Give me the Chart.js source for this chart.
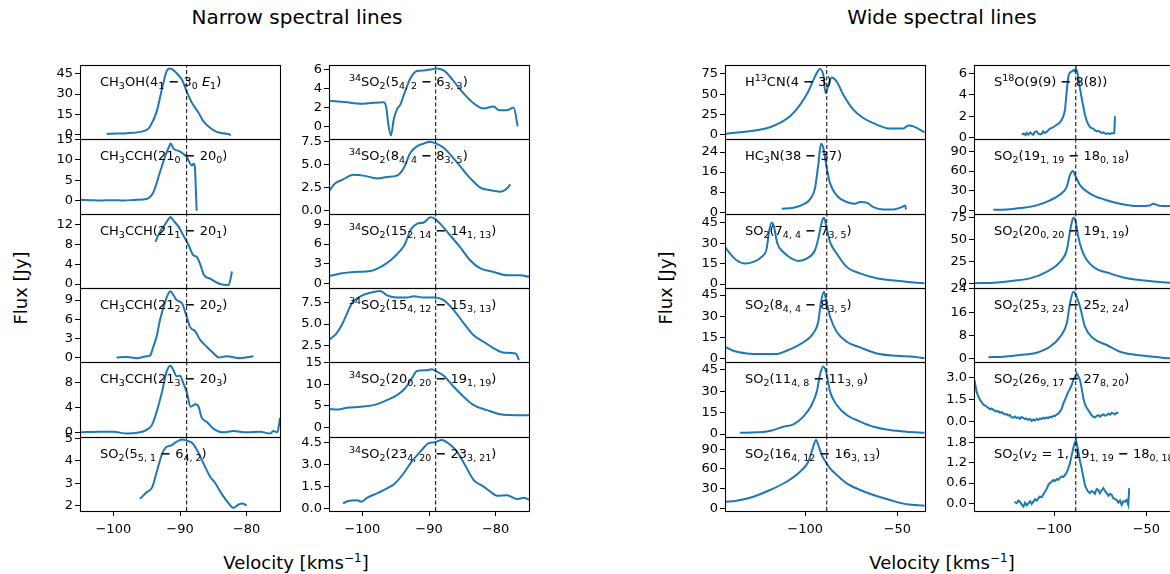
<!DOCTYPE html>
<html>
<head>
<meta charset="utf-8">
<script src="https://cdn.jsdelivr.net/npm/chart.js@4.4.0/dist/chart.umd.min.js"></script>
<style>
  body { margin: 0; width: 1170px; height: 574px; overflow: hidden; background: #fff; position: relative; font-family: "DejaVu Sans", sans-serif; }
  canvas { position: absolute; }
  .txt { position: absolute; white-space: nowrap; color: #000; transform: translate(-50%, -50%); }
  .rot { transform: translate(-50%, -50%) rotate(-90deg); }
</style>
</head>
<body>
<div class="txt" style="left:297px;top:17px;font-size:20px">Narrow spectral lines</div>
<div class="txt" style="left:942px;top:17px;font-size:20px">Wide spectral lines</div>
<div class="txt rot" style="left:20px;top:288px;font-size:18px">Flux [Jy]</div>
<div class="txt rot" style="left:665px;top:288px;font-size:18px">Flux [Jy]</div>
<div class="txt" style="left:296px;top:562px;font-size:18px">Velocity [kms<sup style="font-size:12px">−1</sup>]</div>
<div class="txt" style="left:942px;top:562px;font-size:18px">Velocity [kms<sup style="font-size:12px">−1</sup>]</div>
<script>
// ---- narrow lines, first column: [velocity, flux]
const ch3oh = [[-101,0.5],[-99.5,0.7],[-98,1],[-96,2],[-95,3.5],[-94.5,6],[-93.5,17],[-92.7,34],[-92,47],[-91.5,49],[-90.5,45.5],[-89.7,40.6],[-89,32],[-88.2,23.4],[-87.2,16],[-86.5,10],[-85.5,5],[-84.5,2],[-83.2,0.7],[-82.7,0.4],[-82.4,-0.7]];
const ch3cch0 = [[-105,0.2],[-103.5,0.1],[-102,0],[-100,0.1],[-98.5,0],[-96.5,0.2],[-95,0.4],[-94,2],[-93,7],[-92.2,11],[-91.7,13],[-91.4,14],[-91,12.8],[-90,12],[-89,10.7],[-88.2,8.6],[-88,9],[-87.8,8.6],[-87.5,-2.5]];
const ch3cch1 = [[-93.7,8.5],[-93,10.5],[-92.2,12.1],[-91.7,13.1],[-91.4,13.5],[-91,12.8],[-90.2,11.5],[-89.5,9.8],[-88.7,7.8],[-88,5.8],[-87.5,5.5],[-87,4.1],[-86.4,1.8],[-85.5,1.1],[-84,0],[-82.7,-0.2],[-82.2,2.5]];
const ch3cch2 = [[-99.5,0],[-98,0.1],[-96.5,-0.1],[-95,0.2],[-94.5,0.3],[-94,1.7],[-93.5,3.3],[-93,5.9],[-92.2,8.8],[-91.7,10.1],[-91.4,10.4],[-91,9.8],[-90.5,9],[-89.7,8.5],[-89,6.4],[-88.5,4.8],[-87.7,4.1],[-87,2.8],[-86,1.7],[-85,0.7],[-84.2,0],[-83,0.2],[-81,-0.1],[-79,0.2]];
const ch3cch3 = [[-105,0],[-102,0.1],[-100,0.1],[-98,-0.2],[-96,0],[-95,0.4],[-94.2,1.2],[-93.5,3.3],[-92.7,6.5],[-92,9.8],[-91.4,10.7],[-91,10],[-90.5,9],[-90,9.1],[-89.5,7.9],[-89,6.5],[-88.4,4.1],[-87.7,4.5],[-87.2,4.1],[-86.8,2.5],[-86,1.7],[-85,0.6],[-83.5,0],[-82,0.2],[-80,0],[-78,0.1],[-76.5,-0.2],[-76,0.2],[-75.4,0],[-75,2.3]];
const so2_551 = [[-96,2.3],[-95,2.6],[-94.2,2.8],[-93.5,3.5],[-92.7,4.3],[-92.1,4.6],[-91.2,4.7],[-90.5,4.85],[-89.7,4.95],[-89,4.9],[-88.2,4.8],[-87.5,4.5],[-86.5,3.9],[-85.5,3.3],[-84.7,3.0],[-83.7,2.5],[-82.7,2.1],[-82,1.9],[-81.2,2.05],[-80.7,2.1],[-80,2.0]];

// ---- narrow lines, second column
const so34_542 = [[-105,2.73],[-102.3,2.55],[-100.3,2.4],[-98.3,2.5],[-96.8,2.55],[-96.4,1.95],[-96.1,0.2],[-95.7,-1.0],[-95.3,0.7],[-94.8,1.8],[-94.3,2.3],[-93.6,3.7],[-92.8,5.1],[-91.8,5.9],[-90.8,5.95],[-89.8,6.05],[-88.9,6.15],[-87.8,5.95],[-86.8,5.25],[-85.8,4.35],[-84.8,3.5],[-83.3,2.45],[-81.8,1.9],[-80.3,2.1],[-79.5,1.7],[-78.3,1.7],[-77.3,2.0],[-76.7,0]];
const so34_844 = [[-105,2.1],[-104.1,2.95],[-103.1,3.3],[-101.3,3.9],[-99.8,3.8],[-97.8,3.5],[-96.3,3.65],[-94.8,3.8],[-93.8,4.6],[-92.8,6.3],[-91.8,7.0],[-90.8,7.3],[-89.8,7.5],[-88.9,7.3],[-87.8,6.85],[-86.8,6.1],[-85.3,4.8],[-83.8,3.5],[-82.3,2.5],[-80.8,2.2],[-79.3,2.05],[-78.3,2.4],[-77.8,2.85]];
const so34_15214 = [[-105,1.1],[-103.3,1.5],[-101.3,1.75],[-98.8,1.9],[-97.3,2.5],[-95.8,3.5],[-94.3,5.0],[-93.6,6.0],[-92.8,8.1],[-91.8,9.1],[-90.8,9.3],[-89.8,10.1],[-89.1,9.85],[-88.3,9.1],[-86.8,7.3],[-85.3,5.5],[-83.8,3.5],[-82.3,2.3],[-80.3,1.75],[-78.3,1.25],[-76.3,1.25],[-75,1.0]];
const so34_15412 = [[-105,3.15],[-103.9,3.9],[-103.1,4.85],[-102.3,6.2],[-101.6,7.35],[-100.6,8.05],[-98.8,8.6],[-97.3,8.8],[-96.3,8.3],[-94.8,8.05],[-93.3,8.05],[-92.3,8.2],[-90.8,8.05],[-89.3,8.05],[-87.8,7.75],[-86.3,6.6],[-84.8,5.1],[-83.3,3.7],[-81.8,2.95],[-80.3,2.2],[-78.8,1.7],[-77,1.6],[-76.5,0.85]];
const so34_20020 = [[-105,4.3],[-103.6,4.2],[-102.3,4.6],[-100.3,4.8],[-98.3,5.2],[-96.3,6.35],[-94.8,7.5],[-93.6,9.0],[-92.6,11.3],[-91.8,13.0],[-90.3,13.2],[-89.6,13.4],[-88.8,12.85],[-87.8,11.9],[-86.3,9.4],[-84.8,7.1],[-83.3,5.2],[-81.3,4.05],[-79.3,3.1],[-76.8,2.9],[-75,2.9]];
const so34_23420 = [[-102.9,0.34],[-102.1,0.5],[-100.8,0.55],[-100.1,0.45],[-99.3,0.72],[-97.8,1.02],[-96.3,1.36],[-95.1,1.7],[-93.8,2.39],[-92.6,3.18],[-91.3,3.86],[-90.1,4.43],[-89.1,4.5],[-88.1,4.66],[-87.1,4.43],[-85.8,3.86],[-84.6,2.95],[-83.3,1.93],[-81.8,1.48],[-80.8,1.14],[-79.8,0.86],[-78.3,0.9],[-76.8,0.63],[-75.8,0.72],[-75,0.6]];

// ---- wide lines, first column
const h13cn = [[-143.5,1.2],[-135.4,3.2],[-126.3,5.6],[-119.1,9.3],[-113.7,14.7],[-108.2,22.8],[-102.8,37],[-98.3,53.4],[-94.7,71.7],[-92,81.1],[-90.2,73.8],[-88.9,51.4],[-87.4,61.6],[-85.6,70.5],[-82.9,65.6],[-79.3,49.3],[-73.9,31],[-68.5,20.8],[-61.2,12.6],[-54,7.7],[-46.8,7.7],[-44,11.4],[-41.3,10.5],[-35.3,3.2]];
const hc3n = [[-112.7,1.37],[-106.4,1.78],[-101,3.1],[-97.4,5.1],[-94.7,9.45],[-92.9,18.9],[-91.4,27.3],[-90.2,25.7],[-88.3,17.6],[-86.5,11.5],[-82.9,6.75],[-77.5,4.05],[-73,3.4],[-70.2,4.05],[-66.6,3.8],[-63,2.0],[-57.6,1.1],[-52.2,1.1],[-47.6,2.0],[-45.8,2.7],[-45.3,1.1]];
const so2_744 = [[-143.5,27.2],[-140.8,22.4],[-137.2,17.5],[-132.6,15.1],[-128.1,16.3],[-123.6,19.9],[-120.9,26],[-119.5,39.4],[-118.2,45],[-116.9,41.8],[-115.1,29.7],[-111.9,23.5],[-107.3,18.7],[-103.7,17],[-99.2,18.7],[-94.7,24.8],[-92.9,33.3],[-91,45.4],[-89.8,48.6],[-88.3,40.6],[-86.5,30.8],[-82.9,22.4],[-77.5,12.6],[-70.2,7.8],[-61.2,4.2],[-50.3,2.4],[-41.3,1.2],[-35.3,0.5]];
const so2_844 = [[-143.5,8.2],[-139,5.4],[-131.7,3.5],[-122.7,3.0],[-115.5,3.0],[-110.1,5.4],[-104.6,8.7],[-99.2,13],[-95.6,17.8],[-92.9,26],[-91.4,40.2],[-89.8,47.3],[-88.3,39.1],[-86.5,29.6],[-82.9,18.9],[-77.5,11.8],[-70.2,7.8],[-61.2,3.5],[-50.3,1.8],[-41.3,1.1],[-35.3,0]];
const so2_1148 = [[-135.4,0.9],[-126.3,1.2],[-119.1,2.1],[-111.9,5.1],[-106.4,6.8],[-101,12.2],[-96.5,20.4],[-93.7,29.8],[-92,41.5],[-90.2,47.4],[-88.7,43.9],[-86.5,29.8],[-82.9,20.4],[-77.5,13.4],[-70.2,8.7],[-63,5.1],[-54,2.8],[-44.9,1.6],[-35.3,0.9]];
const so2_16412 = [[-143.5,10.1],[-137.2,11.6],[-128.1,17.7],[-119.1,27.9],[-110.1,40.5],[-102.8,55.8],[-98.3,71],[-95.9,91.4],[-94.1,104],[-92.9,96.5],[-91,81.2],[-89.2,72.1],[-86.5,61],[-82.9,50.8],[-77.5,38],[-70.2,27.9],[-63,20.3],[-54,12.7],[-44.9,6.1],[-35.3,4.0]];

// ---- wide lines, second column
const s18o = [[-117.6,0.3],[-116.5,0.4],[-115.5,0.25],[-114.9,0.46],[-114,0.3],[-113,0.5],[-112.2,0.37],[-111.4,0.28],[-110.5,0.55],[-109.5,0.6],[-108.6,0.4],[-107.7,0.32],[-106.8,0.37],[-106,0.6],[-105,0.45],[-104.1,0.55],[-103.2,0.7],[-102.3,0.85],[-101.3,0.92],[-100.4,1.0],[-99.5,1.1],[-98.6,1.23],[-97.7,1.3],[-96.8,1.45],[-95.9,1.69],[-95,2.0],[-94.1,2.6],[-93.5,3.8],[-92.9,4.9],[-92.2,5.8],[-91.4,6.1],[-90.5,6.15],[-89.6,6.3],[-88.9,6.2],[-88.2,6.46],[-87.5,6.1],[-86.9,5.54],[-86,4.6],[-85.1,3.7],[-84.2,2.9],[-83.3,2.15],[-82.4,1.6],[-81.5,1.23],[-80.6,1.0],[-79.7,0.9],[-78.8,0.86],[-77.9,0.7],[-77,0.6],[-76.1,0.65],[-75.1,0.55],[-74.2,0.45],[-73.3,0.5],[-72.4,0.4],[-71.5,0.37],[-70.6,0.42],[-69.7,0.35],[-68.8,0.45],[-67.9,0.4],[-67.4,0.46],[-67,2.0]];
const so2_19119 = [[-133,1.1],[-125.8,1.5],[-118.5,3.6],[-109.5,7.7],[-102.3,15.4],[-96.8,24.2],[-93.2,36],[-91.4,54],[-89.9,60.2],[-88.7,54],[-86,38.6],[-80.6,25.7],[-73.3,17],[-64.3,10.3],[-55.2,6.6],[-48,7.7],[-46.2,10.3],[-43.5,7.7],[-37.2,6.6],[-33,6.4]];
const so2_20020 = [[-143.3,0.8],[-133,1.5],[-122.2,3.7],[-113.1,6.3],[-104.1,13.7],[-96.8,24.9],[-93.2,37.9],[-91,63.9],[-89.6,74.3],[-88.5,71.3],[-86.9,52.7],[-84.2,34.2],[-78.8,19.3],[-69.7,11.9],[-60.6,6.4],[-49.8,3.7],[-37.2,1.4],[-33,1.2]];
const so2_25323 = [[-135.7,0.58],[-127.6,0.8],[-118.5,1.37],[-109.5,2.17],[-102.3,4.2],[-96.8,7.6],[-93.2,12.2],[-91.4,19.1],[-89.6,23.05],[-88.2,21.9],[-86,17.9],[-83.3,11.1],[-78.8,7.1],[-71.5,4.8],[-64.3,2.5],[-55.2,1.37],[-46.2,0.8],[-37.2,0.24],[-33,0.2]];
const so2_26917 = [[-143.3,2.85],[-142.6,2.4],[-142.1,2.05],[-141.2,1.75],[-140.2,1.48],[-139.2,1.3],[-138.2,1.15],[-137.4,1.1],[-136.6,1.02],[-135.7,0.95],[-134.8,0.85],[-133.9,0.9],[-133,0.8],[-132.1,0.75],[-131.2,0.7],[-130.3,0.72],[-129.4,0.62],[-128.5,0.65],[-127.6,0.57],[-126.7,0.5],[-125.8,0.52],[-124.9,0.42],[-124,0.45],[-123.1,0.3],[-122.2,0.27],[-121.3,0.35],[-120.4,0.25],[-119.5,0.3],[-118.6,0.2],[-117.7,0.32],[-116.8,0.27],[-115.9,0.18],[-115,0.22],[-114.1,0.12],[-113.2,0.2],[-112.2,0.05],[-111.3,0.15],[-110.4,0.08],[-109.5,0.2],[-108.6,0.12],[-107.7,0.23],[-106.8,0.18],[-105.9,0.28],[-105,0.22],[-104.1,0.3],[-103.2,0.25],[-102.3,0.34],[-101.4,0.3],[-100.5,0.4],[-99.6,0.38],[-98.6,0.5],[-97.7,0.55],[-96.8,0.7],[-95.9,0.9],[-95,1.25],[-94.1,1.5],[-93.2,1.8],[-92.3,2.05],[-91.4,2.27],[-90.5,2.5],[-89.6,2.84],[-88.7,3.05],[-87.8,3.3],[-86.9,3.1],[-86,2.84],[-85.1,2.3],[-84.2,1.59],[-83.3,1.2],[-82.4,0.95],[-81.5,0.8],[-80.6,0.6],[-79.7,0.45],[-78.8,0.34],[-77.8,0.3],[-76.9,0.4],[-76,0.45],[-75.1,0.35],[-74.2,0.45],[-73.3,0.5],[-72.4,0.42],[-71.5,0.45],[-70.6,0.55],[-69.7,0.48],[-68.8,0.6],[-67.9,0.57],[-67,0.5],[-66.1,0.62],[-65.2,0.57]];
const so2v2 = [[-121.6,0.04],[-120.3,0],[-119.4,0.08],[-118.5,0.04],[-117.6,-0.04],[-116.7,-0.1],[-115.8,0.02],[-114.9,-0.06],[-114,0],[-113.1,0.06],[-112.2,-0.02],[-111.3,0.05],[-110.4,0.12],[-109.5,0.08],[-108.6,0.15],[-107.7,0.2],[-106.8,0.18],[-105.9,0.25],[-105,0.35],[-104.1,0.42],[-103.2,0.54],[-102.3,0.6],[-101.4,0.64],[-100.5,0.69],[-99.6,0.66],[-98.6,0.72],[-97.7,0.7],[-96.8,0.76],[-95.9,0.8],[-95,0.78],[-94.1,0.84],[-93.2,0.92],[-92.3,1.04],[-91.4,1.2],[-90.5,1.43],[-89.8,1.6],[-89.2,1.73],[-88.2,1.88],[-87.5,1.7],[-86.9,1.53],[-86,1.25],[-85.1,1.04],[-84.2,0.78],[-83.3,0.54],[-82.4,0.42],[-81.5,0.34],[-80.6,0.3],[-79.7,0.36],[-78.8,0.34],[-77.9,0.28],[-77,0.42],[-76.1,0.4],[-75.2,0.3],[-74.3,0.38],[-73.3,0.45],[-72.4,0.36],[-71.5,0.3],[-70.6,0.22],[-69.7,0.28],[-68.8,0.25],[-67.9,0.15],[-67,0.12],[-66.1,0.1],[-65.2,0.02],[-64.3,0.08],[-63.4,-0.05],[-62.5,0.06],[-61.6,0.05],[-60.7,0.1],[-59.8,-0.05],[-59.3,0.45]];

// ---- tick labels
const xtNarrow = ['−100', '−90', '−80'];
const xtWide = ['−100', '−50'];
const ytCh3oh = ['0', '15', '30', '45'];
const ytCh3cch0 = ['0', '5', '10', '15'];
const ytCh3cch1 = ['0', '4', '8', '12'];
const ytCh3cch2 = ['0', '3', '6', '9'];
const ytCh3cch3 = ['0', '4', '8'];
const ytSo2551 = ['2', '3', '4', '5'];
const ytSo34542 = ['0', '2', '4', '6'];
const ytSo34844 = ['0.0', '2.5', '5.0', '7.5'];
const ytSo3415214 = ['0', '3', '6', '9'];
const ytSo3415412 = ['2.5', '5.0', '7.5'];
const ytSo3420020 = ['0', '5', '10', '15'];
const ytSo3423420 = ['0.0', '1.5', '3.0', '4.5'];
const ytH13cn = ['0', '25', '50', '75'];
const ytHc3n = ['0', '8', '16', '24'];
const ytSo2744 = ['0', '15', '30', '45'];
const ytSo2844 = ['0', '15', '30', '45'];
const ytSo21148 = ['0', '15', '30', '45'];
const ytSo216412 = ['0', '30', '60', '90'];
const ytS18o = ['0', '2', '4', '6'];
const ytSo219119 = ['0', '30', '60', '90'];
const ytSo220020 = ['0', '25', '50', '75'];
const ytSo225323 = ['0', '8', '16', '24'];
const ytSo226917 = ['0.0', '1.5', '3.0'];
const ytSo2v2 = ['0.0', '0.6', '1.2', '1.8'];

// rest velocity markers
const vNarrow = -89;
const vWide = -88.3;

// columns of panels: [data, y ticks, ymin, ymax, label, noisy]
const columns = [
  [
    [ch3oh, ytCh3oh, -3.3, 51.6, 'CH_{3}OH(4_{1} − 3_{0} $E$_{1})'],
    [ch3cch0, ytCh3cch0, -3.3, 15.1, 'CH_{3}CCH(21_{0} − 20_{0})'],
    [ch3cch1, ytCh3cch1, -0.8, 14.1, 'CH_{3}CCH(21_{1} − 20_{1})'],
    [ch3cch2, ytCh3cch2, -0.7, 10.9, 'CH_{3}CCH(21_{2} − 20_{2})'],
    [ch3cch3, ytCh3cch3, -0.75, 11.3, 'CH_{3}CCH(21_{3} − 20_{3})'],
    [so2_551, ytSo2551, 1.76, 5.06, 'SO_{2}(5_{5, 1} − 6_{4, 2})']
  ],
  [
    [so34_542, ytSo34542, -1.36, 6.53, '^{34}SO_{2}(5_{4, 2} − 6_{3, 3})'],
    [so34_844, ytSo34844, -0.39, 7.8, '^{34}SO_{2}(8_{4, 4} − 8_{3, 5})'],
    [so34_15214, ytSo3415214, -0.7, 10.6, '^{34}SO_{2}(15_{2, 14} − 14_{1, 13})'],
    [so34_15412, ytSo3415412, 0.62, 9.15, '^{34}SO_{2}(15_{4, 12} − 15_{3, 13})'],
    [so34_20020, ytSo3420020, -2.1, 15.07, '^{34}SO_{2}(20_{0, 20} − 19_{1, 19})'],
    [so34_23420, ytSo3423420, -0.18, 4.86, '^{34}SO_{2}(23_{4, 20} − 23_{3, 21})']
  ],
  [
    [h13cn, ytH13cn, -5.1, 86, 'H^{13}CN(4 − 3)'],
    [hc3n, ytHc3n, -0.73, 29.2, 'HC_{3}N(38 − 37)'],
    [so2_744, ytSo2744, -2.9, 51.4, 'SO_{2}(7_{4, 4} − 7_{3, 5})'],
    [so2_844, ytSo2844, -2.6, 50, 'SO_{2}(8_{4, 4} − 8_{3, 5})'],
    [so2_1148, ytSo21148, -2.1, 50.6, 'SO_{2}(11_{4, 8} − 11_{3, 9})'],
    [so2_16412, ytSo216412, -4.1, 108.7, 'SO_{2}(16_{4, 12} − 16_{3, 13})']
  ],
  [
    [s18o, ytS18o, -0.11, 6.77, 'S^{18}O(9(9) − 8(8))', true],
    [so2_19119, ytSo219119, -5.4, 108.8, 'SO_{2}(19_{1, 19} − 18_{0, 18})'],
    [so2_20020, ytSo220020, -4.5, 78.6, 'SO_{2}(20_{0, 20} − 19_{1, 19})'],
    [so2_25323, ytSo225323, -1.03, 24.34, 'SO_{2}(25_{3, 23} − 25_{2, 24})'],
    [so2_26917, ytSo226917, -1.04, 4.07, 'SO_{2}(26_{9, 17} − 27_{8, 20})', true],
    [so2v2, ytSo2v2, -0.23, 1.97, 'SO_{2}($v$_{2} = 1, 19_{1, 19} − 18_{0, 18})', true]
  ]
];

const colLeft = [80, 329, 725, 974];
const rowTop = [65, 139, 214, 288, 362, 437, 511];
const W = 200;
const PAD = 16;   // room above / below each plot area for overflowing tick labels
const FONT = '"DejaVu Sans", sans-serif';

const num = s => parseFloat(s.replace('−', '-'));

// label with sub/superscripts: _{..} ^{..} $italic$
function drawRich(ctx, str, x, y) {
  const parts = str.match(/_\{[^}]*\}|\^\{[^}]*\}|\$[^$]*\$|−|[^_^$−]+/g);
  ctx.textAlign = 'left';
  ctx.textBaseline = 'alphabetic';
  ctx.fillStyle = '#000';
  for (const p of parts) {
    let t = p, size = 13, dy = 0, style = '';
    if (p.startsWith('_{')) { t = p.slice(2, -1); size = 9.5; dy = 3; }
    else if (p.startsWith('^{')) { t = p.slice(2, -1); size = 9.5; dy = -5; }
    else if (p.startsWith('$')) { t = p.slice(1, -1); style = 'italic '; }
    else if (p === '−') { style = 'bold '; }
    ctx.font = style + size + 'px ' + FONT;
    ctx.fillText(t, x, y + dy);
    x += ctx.measureText(t).width;
  }
}

const panelDeco = {
  id: 'panelDeco',
  afterDatasetsDraw(chart, args, opts) {
    const { ctx, chartArea: a } = chart;
    ctx.save();
    ctx.strokeStyle = '#000';
    ctx.lineWidth = 1.1;
    ctx.strokeRect(a.left + 0.5, a.top + 0.5, a.right - a.left, a.bottom - a.top);
    drawRich(ctx, opts.label, a.left + 20, a.top + 21);
    ctx.restore();
  }
};

columns.forEach((col, c) => {
  const wide = c >= 2;
  const xr = wide ? [-143.5, -35] : [-105, -75];
  const xt = wide ? xtWide : xtNarrow;
  const vl = wide ? vWide : vNarrow;
  col.forEach(([data, yt, ymin, ymax, label, noisy], r) => {
    const T = rowTop[r], H = rowTop[r + 1] - T;
    const bottom = r === col.length - 1;
    const xh = bottom ? 32 : PAD;
    const cv = document.createElement('canvas');
    cv.width = 50 + W + 12;
    cv.height = PAD + H + xh;
    cv.style.left = (colLeft[c] - 50) + 'px';
    cv.style.top = (T - PAD) + 'px';
    document.body.appendChild(cv);

    new Chart(cv, {
      type: 'line',
      data: {
        datasets: [
          {
            data: [{ x: vl, y: ymin }, { x: vl, y: ymax }],
            borderColor: '#000', borderWidth: 1, borderDash: [4, 2.5], pointRadius: 0
          },
          {
            data: data.map(([x, y]) => ({ x, y })),
            borderColor: '#1f77b4', borderWidth: 2, pointRadius: 0,
            cubicInterpolationMode: noisy ? 'default' : 'monotone',
            tension: noisy ? 0 : 0.4
          }
        ]
      },
      options: {
        responsive: false,
        animation: false,
        devicePixelRatio: 1,
        layout: { autoPadding: false, padding: { top: PAD, right: 12, bottom: 0, left: 0 } },
        plugins: { legend: { display: false }, tooltip: { enabled: false }, panelDeco: { label } },
        scales: {
          x: {
            type: 'linear', min: xr[0], max: xr[1],
            afterFit: s => { s.height = xh; },
            afterBuildTicks: s => { s.ticks = xt.map(t => ({ value: num(t) })); },
            ticks: {
              display: bottom, autoSkip: false, maxRotation: 0, padding: 6, color: '#000',
              font: { family: FONT, size: 13 },
              callback: (v, i) => xt[i]
            },
            grid: { display: bottom, drawOnChartArea: false, tickLength: 5, color: '#000' },
            border: { display: false }
          },
          y: {
            type: 'linear', min: ymin, max: ymax,
            afterFit: s => { s.width = 50; },
            afterBuildTicks: s => { s.ticks = yt.map(t => ({ value: num(t) })); },
            ticks: {
              autoSkip: false, padding: 2, color: '#000',
              font: { family: FONT, size: 13 },
              callback: (v, i) => yt[i]
            },
            grid: { drawOnChartArea: false, tickLength: 5, color: '#000' },
            border: { display: false }
          }
        }
      },
      plugins: [panelDeco]
    });
  });
});
</script>
</body>
</html>
